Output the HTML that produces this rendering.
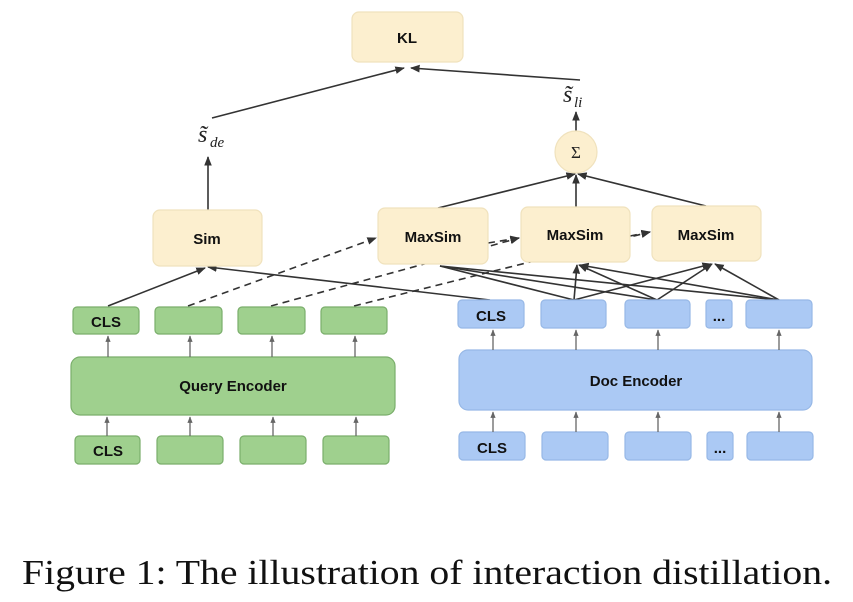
<!DOCTYPE html>
<html><head><meta charset="utf-8"><style>
html,body{margin:0;padding:0;background:#fff;}
svg{display:block;}
.b{font-family:"Liberation Sans",Arial,sans-serif;font-weight:bold;font-size:15px;fill:#111;text-anchor:middle;}
.y{fill:#fcefcf;stroke:#f0e2bd;stroke-width:1.2;}
.g{fill:#9fd08e;stroke:#7aae6b;stroke-width:1.2;}
.u{fill:#abc9f4;stroke:#97b8e6;stroke-width:1.2;}
.l{stroke:#333;stroke-width:1.6;fill:none;}
.d{stroke:#333;stroke-width:1.6;fill:none;stroke-dasharray:7,5;}
.s{stroke:#666;stroke-width:1.3;fill:none;}
</style></head><body>
<svg width="853" height="602" viewBox="0 0 853 602" xmlns="http://www.w3.org/2000/svg">
<defs>
<marker id="a" viewBox="0 0 10 10" refX="9" refY="5" markerWidth="6" markerHeight="6" orient="auto"><path d="M0,1 L10,5 L0,9 z" fill="#333"/></marker>
<marker id="a2" viewBox="0 0 10 10" refX="9" refY="5" markerWidth="5" markerHeight="5" orient="auto"><path d="M0,1 L10,5 L0,9 z" fill="#666"/></marker>
</defs>

<!-- dashed (behind boxes) -->
<line class="d" x1="188" y1="306" x2="376" y2="238" marker-end="url(#a)"/>
<line class="d" x1="271" y1="306" x2="519" y2="238" marker-end="url(#a)"/>
<line class="d" x1="354" y1="306" x2="650" y2="232" marker-end="url(#a)"/>
<line class="d" x1="488" y1="243" x2="519" y2="238" marker-end="url(#a)"/>
<line class="d" x1="630" y1="236" x2="650" y2="232" marker-end="url(#a)"/>

<!-- maxsim to doc tokens -->
<g class="l">
<line x1="574" y1="300" x2="440" y2="266"/>
<line x1="657" y1="300" x2="440" y2="266"/>
<line x1="779" y1="300" x2="440" y2="266"/>
</g>
<line class="l" x1="574" y1="300" x2="577" y2="265" marker-end="url(#a)"/>
<line class="l" x1="657" y1="300" x2="579" y2="265" marker-end="url(#a)"/>
<line class="l" x1="779" y1="300" x2="580" y2="265" marker-end="url(#a)"/>
<line class="l" x1="574" y1="300" x2="711" y2="264" marker-end="url(#a)"/>
<line class="l" x1="657" y1="300" x2="712" y2="264" marker-end="url(#a)"/>
<line class="l" x1="779" y1="300" x2="715" y2="264" marker-end="url(#a)"/>

<!-- sim connectors -->
<line class="l" x1="108" y1="306" x2="205" y2="268" marker-end="url(#a)"/>
<line class="l" x1="490" y1="300" x2="208" y2="267" marker-end="url(#a)"/>

<!-- top connectors -->
<line class="l" x1="212" y1="118" x2="404" y2="68" marker-end="url(#a)"/>
<line class="l" x1="580" y1="80" x2="411" y2="68" marker-end="url(#a)"/>
<line class="l" x1="208" y1="210" x2="208" y2="157" marker-end="url(#a)"/>
<line class="l" x1="576" y1="131" x2="576" y2="112" marker-end="url(#a)"/>
<line class="l" x1="438" y1="208" x2="575" y2="174" marker-end="url(#a)"/>
<line class="l" x1="576" y1="207" x2="576" y2="175" marker-end="url(#a)"/>
<line class="l" x1="706" y1="206" x2="578" y2="174" marker-end="url(#a)"/>

<!-- boxes yellow -->
<rect class="y" x="352" y="12" width="111" height="50" rx="7"/>
<text class="b" x="407" y="43">KL</text>
<rect class="y" x="153" y="210" width="109" height="56" rx="7"/>
<text class="b" x="207" y="244">Sim</text>
<rect class="y" x="378" y="208" width="110" height="56" rx="7"/>
<text class="b" x="433" y="242">MaxSim</text>
<rect class="y" x="521" y="207" width="109" height="55" rx="7"/>
<text class="b" x="575" y="240">MaxSim</text>
<rect class="y" x="652" y="206" width="109" height="55" rx="7"/>
<text class="b" x="706" y="240">MaxSim</text>
<circle class="y" cx="576" cy="152" r="21"/>
<text x="576" y="158" font-family="Liberation Serif,serif" font-size="17" text-anchor="middle" fill="#222">Σ</text>

<!-- labels -->
<text x="198" y="142" font-family="Liberation Serif,serif" font-style="italic" font-size="24" fill="#222">s̃</text>
<text x="210" y="147" font-family="Liberation Serif,serif" font-style="italic" font-size="15" fill="#222">de</text>
<text x="563" y="102" font-family="Liberation Serif,serif" font-style="italic" font-size="24" fill="#222">s̃</text>
<text x="574" y="107" font-family="Liberation Serif,serif" font-style="italic" font-size="15" fill="#222">li</text>

<!-- green -->
<rect class="g" x="73" y="307" width="66" height="27" rx="4"/><text class="b" x="106" y="327">CLS</text>
<rect class="g" x="155" y="307" width="67" height="27" rx="4"/>
<rect class="g" x="238" y="307" width="67" height="27" rx="4"/>
<rect class="g" x="321" y="307" width="66" height="27" rx="4"/>
<rect class="g" x="71" y="357" width="324" height="58" rx="9"/>
<text class="b" x="233" y="391">Query Encoder</text>
<rect class="g" x="75" y="436" width="65" height="28" rx="4"/><text class="b" x="108" y="456">CLS</text>
<rect class="g" x="157" y="436" width="66" height="28" rx="4"/>
<rect class="g" x="240" y="436" width="66" height="28" rx="4"/>
<rect class="g" x="323" y="436" width="66" height="28" rx="4"/>
<g class="s">
<line x1="108" y1="357" x2="108" y2="336" marker-end="url(#a2)"/>
<line x1="190" y1="357" x2="190" y2="336" marker-end="url(#a2)"/>
<line x1="272" y1="357" x2="272" y2="336" marker-end="url(#a2)"/>
<line x1="355" y1="357" x2="355" y2="336" marker-end="url(#a2)"/>
<line x1="107" y1="436" x2="107" y2="417" marker-end="url(#a2)"/>
<line x1="190" y1="436" x2="190" y2="417" marker-end="url(#a2)"/>
<line x1="273" y1="436" x2="273" y2="417" marker-end="url(#a2)"/>
<line x1="356" y1="436" x2="356" y2="417" marker-end="url(#a2)"/>
</g>

<!-- blue -->
<rect class="u" x="458" y="300" width="66" height="28" rx="4"/><text class="b" x="491" y="321">CLS</text>
<rect class="u" x="541" y="300" width="65" height="28" rx="4"/>
<rect class="u" x="625" y="300" width="65" height="28" rx="4"/>
<rect class="u" x="706" y="300" width="26" height="28" rx="3"/><text class="b" x="719" y="321">...</text>
<rect class="u" x="746" y="300" width="66" height="28" rx="4"/>
<rect class="u" x="459" y="350" width="353" height="60" rx="9"/>
<text class="b" x="636" y="386">Doc Encoder</text>
<rect class="u" x="459" y="432" width="66" height="28" rx="4"/><text class="b" x="492" y="453">CLS</text>
<rect class="u" x="542" y="432" width="66" height="28" rx="4"/>
<rect class="u" x="625" y="432" width="66" height="28" rx="4"/>
<rect class="u" x="707" y="432" width="26" height="28" rx="3"/><text class="b" x="720" y="453">...</text>
<rect class="u" x="747" y="432" width="66" height="28" rx="4"/>
<g class="s">
<line x1="493" y1="350" x2="493" y2="330" marker-end="url(#a2)"/>
<line x1="576" y1="350" x2="576" y2="330" marker-end="url(#a2)"/>
<line x1="658" y1="350" x2="658" y2="330" marker-end="url(#a2)"/>
<line x1="779" y1="350" x2="779" y2="330" marker-end="url(#a2)"/>
<line x1="493" y1="432" x2="493" y2="412" marker-end="url(#a2)"/>
<line x1="576" y1="432" x2="576" y2="412" marker-end="url(#a2)"/>
<line x1="658" y1="432" x2="658" y2="412" marker-end="url(#a2)"/>
<line x1="779" y1="432" x2="779" y2="412" marker-end="url(#a2)"/>
</g>

<text x="427" y="584" font-family="Liberation Serif,serif" font-size="35" text-anchor="middle" fill="#111" textLength="810" lengthAdjust="spacingAndGlyphs">Figure 1: The illustration of interaction distillation.</text>
</svg>
</body></html>
